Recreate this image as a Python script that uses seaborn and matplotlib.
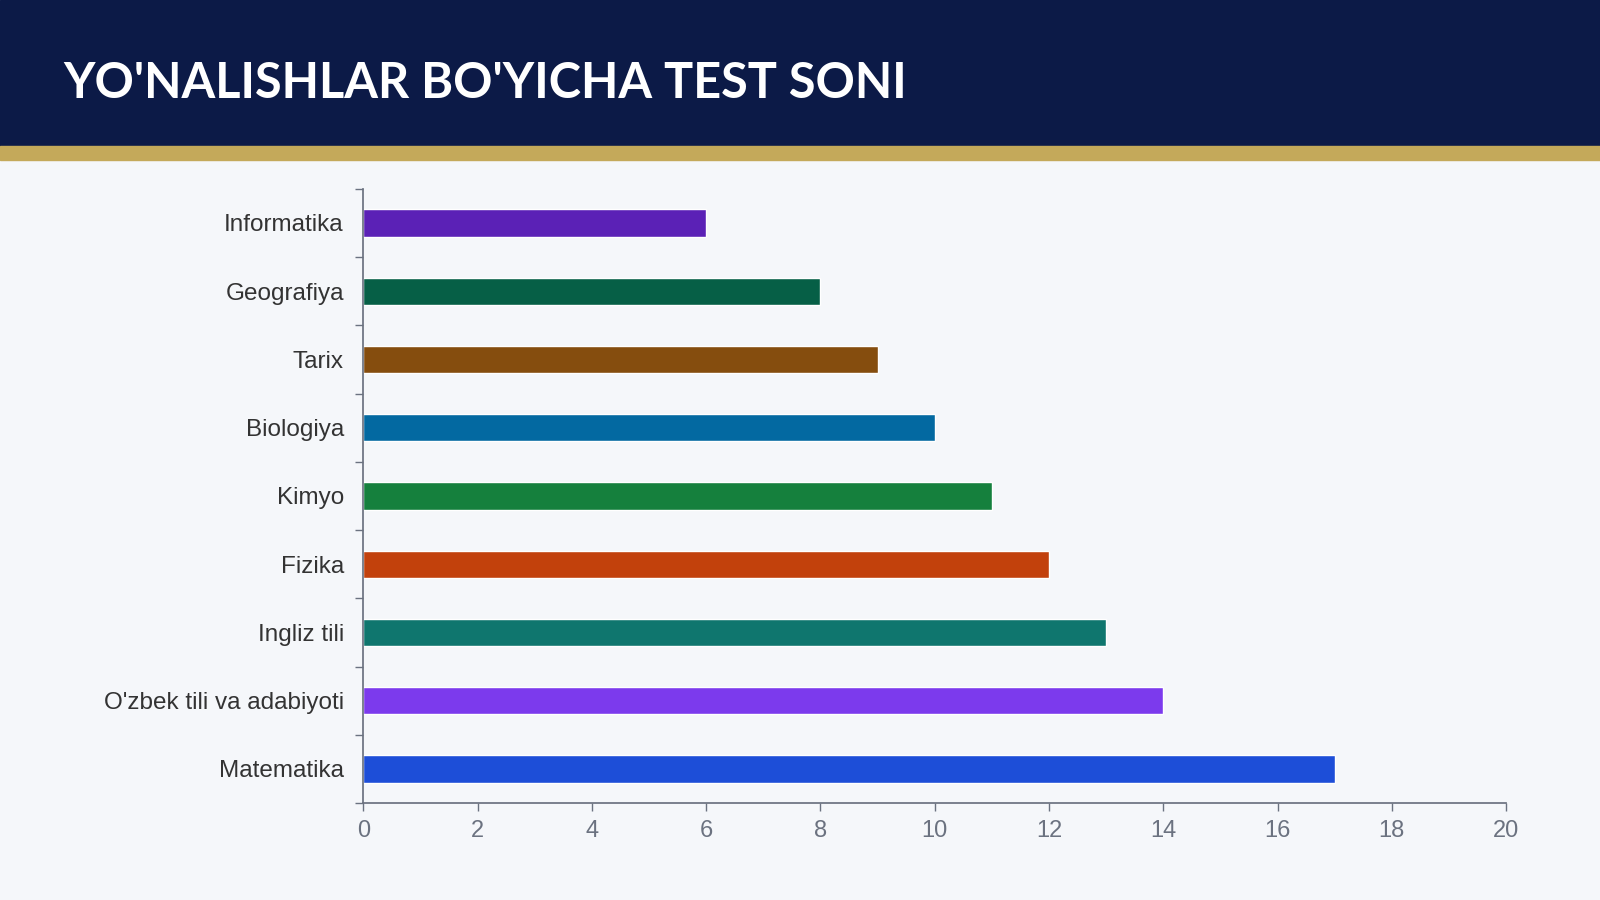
import matplotlib
matplotlib.use("Agg")
import matplotlib.pyplot as plt
import seaborn as sns
import pandas as pd
import numpy as np
from matplotlib.patches import Rectangle

categories = ["Informatika", "Geografiya", "Tarix", "Biologiya", "Kimyo", "Fizika",
              "Ingliz tili", "O'zbek tili va adabiyoti", "Matematika"]
values = [6, 8, 9, 10, 11, 12, 13, 14, 17]
colors = ["#5B21B6", "#065F46", "#854D0E", "#0369A1", "#15803D", "#C2410C",
          "#0F766E", "#7C3AED", "#1D4ED8"]
xticks = [0, 2, 4, 6, 8, 10, 12, 14, 16, 18, 20]

sns.set_theme(style="white")
plt.rcParams['font.family'] = ['Liberation Sans', 'DejaVu Sans']

fig = plt.figure(figsize=(16, 9), dpi=100, facecolor="#F5F7FA")
fig.patches.append(Rectangle((0, 1 - 143/882), 1, 143/882, transform=fig.transFigure, color="#0C1A47", zorder=0))
fig.patches.append(Rectangle((0, 1 - 157/882), 1, 14/882, transform=fig.transFigure, color="#C4A95A", zorder=0))
fig.text(62/1568, 1 - 82/882, "YO'NALISHLAR BO'YICHA TEST SONI", color="white",
         fontsize=35, fontweight="bold", family=["Lato", "DejaVu Sans"], va="center", ha="left")

ax = fig.add_axes([356/1568, 1 - 787/882, (1476-356)/1568, (787-185)/882])
ax.set_facecolor("#F5F7FA")
df = pd.DataFrame({"cat": categories, "val": values})
sns.barplot(data=df, x="val", y="cat", hue="cat", palette=colors, legend=False,
            width=0.4, ax=ax, saturation=1)
ax.set_xlim(0, 20)
ax.set_ylim(len(categories) - 0.5, -0.5)
ax.set_xticks(xticks)
ax.set_xlabel("")
ax.set_ylabel("")
for s in ["top", "right"]:
    ax.spines[s].set_visible(False)
for s in ["left", "bottom"]:
    ax.spines[s].set_color("#6B7280")
ax.tick_params(axis="x", colors="#6B7280", labelsize=17, length=6, width=1, bottom=True, direction="out", pad=6)
ax.tick_params(axis="y", which="major", length=0, labelsize=17.5, labelcolor="#333333", pad=14)
ax.set_yticks(np.arange(-0.5, len(categories), 1), minor=True)
ax.tick_params(axis="y", which="minor", length=6, color="#6B7280", left=True)
for lbl in ax.get_xticklabels():
    lbl.set_color("#6B7280")

fig.savefig("out.png", dpi=100, facecolor=fig.get_facecolor())
